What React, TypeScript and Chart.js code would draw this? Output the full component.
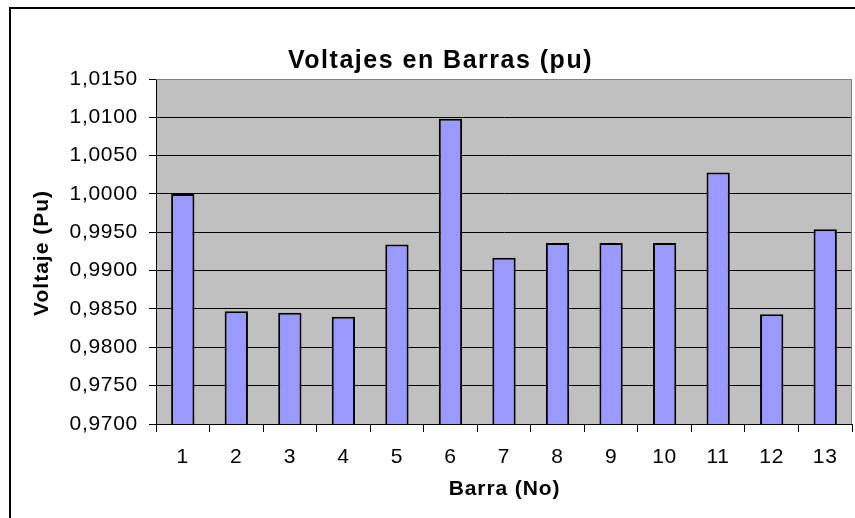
import React, { useEffect, useRef } from 'react';
import { Chart, registerables } from 'chart.js';

Chart.register(...registerables);

const categories = ['1', '2', '3', '4', '5', '6', '7', '8', '9', '10', '11', '12', '13'];
const voltages = [1.0, 0.9847, 0.9845, 0.984, 0.9934, 1.0098, 0.9917, 0.9936, 0.9936, 0.9936, 1.0028, 0.9843, 0.9954];
const yTickValues = [0.97, 0.975, 0.98, 0.985, 0.99, 0.995, 1.0, 1.005, 1.01, 1.015];
const chartTitle = 'Voltajes en Barras (pu)';
const yAxisTitle = 'Voltaje (Pu)';
const xAxisTitle = 'Barra (No)';

const FAMILY = '"Liberation Sans", Arial, sans-serif';

const framePlugin = {
  id: 'excelFrame',
  beforeDraw(chart: any) {
    const { ctx, chartArea: a } = chart;
    ctx.save();
    ctx.fillStyle = '#ffffff';
    ctx.fillRect(0, 0, chart.width, chart.height);
    ctx.fillStyle = '#C0C0C0';
    ctx.fillRect(a.left, a.top, a.right - a.left, a.bottom - a.top);
    ctx.restore();
    (ctx as any).letterSpacing = '0.7px';
  },
  afterDraw(chart: any) {
    const { ctx, chartArea: a } = chart;
    (ctx as any).letterSpacing = '0px';
    ctx.save();
    // plot area border (top/right)
    ctx.strokeStyle = '#808080';
    ctx.lineWidth = 1;
    ctx.beginPath();
    ctx.moveTo(a.left, a.top + 0.5);
    ctx.lineTo(a.right - 0.5, a.top + 0.5);
    ctx.lineTo(a.right - 0.5, a.bottom);
    ctx.stroke();
    // outer chart frame
    ctx.strokeStyle = '#000';
    ctx.lineWidth = 2;
    ctx.beginPath();
    ctx.moveTo(10, chart.height + 5);
    ctx.lineTo(10, 8);
    ctx.lineTo(chart.width + 5, 8);
    ctx.stroke();
    // texts
    ctx.fillStyle = '#000';
    ctx.textAlign = 'center';
    ctx.textBaseline = 'middle';
    ctx.font = 'bold 25px ' + FAMILY;
    (ctx as any).letterSpacing = '1.5px';
    ctx.fillText(chartTitle, 440.5, a.top - 18);
    ctx.font = 'bold 21px ' + FAMILY;
    (ctx as any).letterSpacing = '0.9px';
    ctx.fillText(xAxisTitle, (a.left + a.right) / 2 + 0.5, a.bottom + 65);
    (ctx as any).letterSpacing = '1px';
    ctx.translate(42, (a.top + a.bottom) / 2 + 2);
    ctx.rotate(-Math.PI / 2);
    ctx.fillText(yAxisTitle, 0.5, 0);
    ctx.restore();
    (ctx as any).letterSpacing = '0px';
  },
};

export default function App() {
  const ref = useRef<HTMLCanvasElement>(null);
  useEffect(() => {
    if (!ref.current) return;
    const tickFont = { family: FAMILY, size: 21 };
    const chart = new Chart(ref.current, {
      type: 'bar',
      data: {
        labels: categories,
        datasets: [
          {
            data: voltages,
            backgroundColor: '#9999FF',
            borderColor: '#000000',
            borderWidth: 2,
            barPercentage: 0.435,
            categoryPercentage: 1,
          },
        ],
      },
      options: {
        responsive: false,
        animation: false,
        layout: { padding: { top: 79, left: 0, right: 3, bottom: 0 } },
        plugins: {
          legend: { display: false },
          title: { display: false },
          tooltip: { enabled: false },
        },
        scales: {
          x: {
            offset: true,
            grid: {
              display: true,
              drawOnChartArea: false,
              drawTicks: true,
              tickLength: 8,
              offset: true,
              color: '#000',
            },
            border: { display: true, color: '#000', width: 1 },
            ticks: { color: '#000', font: tickFont, padding: 13, maxRotation: 0, autoSkip: false },
            afterFit: (s: any) => {
              s.height = 94;
            },
          },
          y: {
            min: 0.97,
            max: 1.015,
            afterBuildTicks: (s: any) => {
              s.ticks = yTickValues.map((v) => ({ value: v }));
            },
            grid: {
              color: (c: any) =>
                c.tick && Math.abs(c.tick.value - 1.015) < 1e-9 ? '#808080' : '#000',
              tickColor: '#000',
              tickLength: 7,
            },
            border: { display: true, color: '#000', width: 1 },
            ticks: {
              color: '#000',
              font: tickFont,
              padding: 11,
              callback: (v: any) => Number(v).toFixed(4).replace('.', ','),
            },
            afterFit: (s: any) => {
              s.width = 156;
            },
          },
        },
      },
      plugins: [framePlugin],
    } as any);
    return () => chart.destroy();
  }, []);
  return (
    <div style={{ position: 'fixed', left: 0, top: 0, width: 855, height: 518, background: '#fff' }}>
      <canvas ref={ref} width={855} height={518} style={{ display: 'block', width: 855, height: 518 }} />
    </div>
  );
}
